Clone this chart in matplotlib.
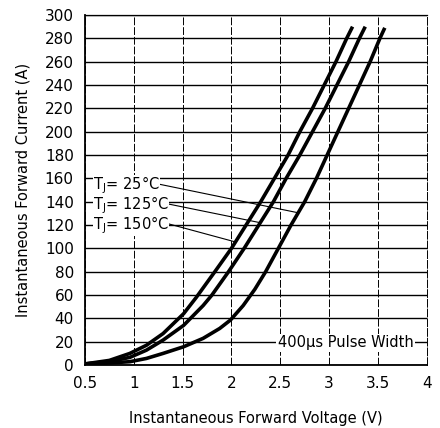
import numpy as np
import matplotlib
matplotlib.use('Agg')
import matplotlib.pyplot as plt

# forward voltage (V) vs. instantaneous current (A)
v_150 = [0.5, 0.75, 0.96, 1.13, 1.30, 1.51, 1.64, 1.83, 2.00, 2.15, 2.30, 2.44, 2.58, 2.70, 2.83, 2.95, 3.07, 3.18, 3.24]
i_150 = [1, 4, 10, 17, 27, 44, 58, 80, 100, 120, 140, 160, 180, 200, 220, 240, 260, 280, 290]

v_125 = [0.5, 0.75, 0.96, 1.13, 1.30, 1.51, 1.71, 1.80, 1.97, 2.13, 2.28, 2.43, 2.56, 2.70, 2.83, 2.96, 3.08, 3.20, 3.31, 3.37]
i_125 = [1, 3, 6.6, 12.8, 21.4, 34, 51, 60, 80, 100, 120, 140, 160, 180, 200, 220, 240, 260, 280, 290]

v_25 = [0.5, 0.75, 0.96, 1.13, 1.30, 1.51, 1.71, 1.88, 1.99, 2.12, 2.24, 2.35, 2.48, 2.61, 2.75, 2.87, 2.98, 3.09, 3.20, 3.31, 3.42, 3.52, 3.57]
i_25 = [1, 1.8, 2.9, 5.7, 10, 15.7, 22.9, 31.4, 38.6, 51, 65, 80, 100, 120, 140, 160, 180, 200, 220, 240, 260, 280, 289]

labels = [r'T$_{\rm J}$= 25°C', r'T$_{\rm J}$= 125°C', r'T$_{\rm J}$= 150°C']
label_y = [154, 137, 120]
leader_i = [130.5, 122, 105.5]   # current where each leader meets its curve

x_ticks = [0.5, 1, 1.5, 2, 2.5, 3, 3.5, 4]
x_ticklabels = ['0.5', '1', '1.5', '2', '2.5', '3', '3.5', '4']
y_ticks = list(range(0, 301, 20))

fig = plt.figure(figsize=(4.4, 4.28), dpi=100)
ax = fig.add_axes([0.193, 0.147, 0.777, 0.818])

curves = [(v_25, i_25), (v_125, i_125), (v_150, i_150)]
for v, i in curves:
    ax.plot(v, i, color='black', lw=2.6, solid_capstyle='butt',
            solid_joinstyle='round', zorder=3)

ax.set_xlim(0.5, 4)
ax.set_ylim(0, 300)
ax.set_xticks(x_ticks)
ax.set_xticklabels(x_ticklabels)
ax.set_yticks(y_ticks)
ax.tick_params(length=0, labelsize=11, pad=8)

ax.grid(axis='y', color='black', lw=1.0)
ax.grid(axis='x', color='black', lw=0.7, linestyle=(0, (8, 2)))

for side in ['left', 'bottom']:
    ax.spines[side].set_linewidth(1.3)
ax.spines['top'].set_linewidth(0.9)
ax.spines['right'].set_linewidth(0.7)
ax.spines['right'].set_linestyle((0, (8, 2)))

for (v, i), txt, ly, li in zip(curves, labels, label_y, leader_i):
    target = (np.interp(li, i, v), li)
    ax.annotate(txt, xy=target, xytext=(0.58, ly), ha='left', va='center',
                fontsize=10.5,
                bbox=dict(boxstyle='square,pad=0.0', fc='white', ec='none'),
                arrowprops=dict(arrowstyle='-', lw=0.8, color='black',
                                shrinkA=0, shrinkB=0, relpos=(1, 0.55)),
                zorder=4)

ax.text(3.17, 19, '400µs Pulse Width', ha='center', va='center', fontsize=10.5,
        bbox=dict(boxstyle='square,pad=0.1', fc='white', ec='none'), zorder=4)

ax.set_xlabel('Instantaneous Forward Voltage (V)', fontsize=10.5, labelpad=14)
ax.set_ylabel('Instantaneous Forward Current (A)', fontsize=10.5, labelpad=10)

fig.savefig('out.png', dpi=100)
